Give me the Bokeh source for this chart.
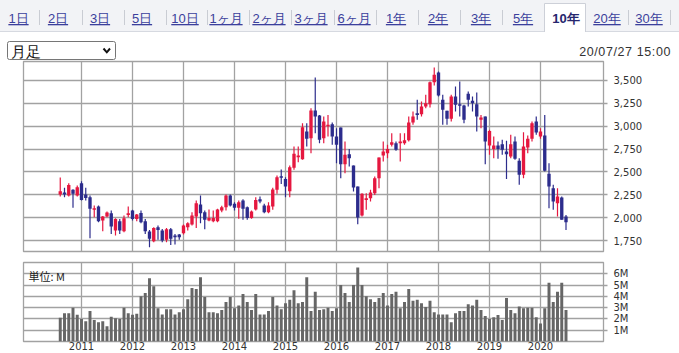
import pandas as pd
from bokeh.plotting import figure
from bokeh.layouts import column
from bokeh.models import Range1d, FixedTicker, NumeralTickFormatter, Label, Div
from bokeh.embed import file_html
from bokeh.resources import INLINE

# ---------------- data ----------------
start_month = "2010-08-01"
opens = [2253, 2274, 2242, 2304, 2242, 2377, 2253, 2223, 2085, 2121,
         1968, 2012, 2048, 1859, 1961, 1851, 2030, 2078, 1986, 2052,
         1961, 1848, 1742, 1895, 1859, 1757, 1873, 1804, 1815, 1830,
         1895, 1925, 2012, 2143, 2060, 1968, 1961, 1961, 2078, 2114,
         2242, 2151, 2107, 2187, 2114, 1997, 2089, 2202, 2133, 2060,
         2122, 2304, 2453, 2424, 2289, 2545, 2661, 2639, 2942, 2869,
         3172, 3117, 2869, 3000, 3022, 2887, 2986, 2585, 2694, 2570,
         2340, 2023, 2194, 2213, 2267, 2431, 2680, 2705, 2796, 2815,
         2815, 2815, 2847, 3041, 3143, 3132, 3216, 3241, 3482, 3588,
         3289, 3168, 3081, 3325, 3241, 3227, 3354, 3278, 3241, 3070,
         3106, 2789, 2752, 2789, 2804, 2723, 2669, 2833, 2621, 2468,
         2767, 2862, 3052, 2887, 2898, 2479, 2322, 2158, 2220, 2012]
highs = [2440, 2326, 2377, 2311, 2351, 2398, 2326, 2242, 2132, 2132,
         2019, 2067, 2078, 1994, 1986, 2023, 2121, 2085, 2041, 2078,
         1986, 1866, 1895, 1913, 1877, 1888, 1888, 1822, 1822, 1925,
         1950, 2059, 2187, 2242, 2078, 2089, 2078, 2096, 2129, 2253,
         2253, 2169, 2187, 2202, 2121, 2078, 2224, 2231, 2151, 2169,
         2326, 2461, 2526, 2442, 2570, 2778, 2778, 3033, 3033, 3197,
         3533, 3124, 3106, 3124, 3041, 2979, 2986, 2833, 2752, 2570,
         2340, 2267, 2267, 2304, 2450, 2658, 2833, 2796, 2924, 2833,
         2924, 2924, 3106, 3161, 3289, 3270, 3343, 3490, 3642, 3599,
         3343, 3168, 3343, 3434, 3489, 3234, 3380, 3325, 3369, 3124,
         3106, 2960, 2887, 2833, 2851, 2840, 2906, 2887, 2650, 2935,
         2898, 3052, 3106, 2979, 3124, 2596, 2359, 2322, 2231, 2030]
lows = [2230, 2223, 2231, 2107, 2231, 2187, 2187, 1775, 2005, 1950,
        1851, 2005, 1822, 1804, 1822, 1840, 2005, 1968, 1961, 1939,
        1822, 1676, 1731, 1757, 1731, 1731, 1702, 1706, 1757, 1815,
        1859, 1914, 1888, 1939, 1873, 1961, 1950, 1950, 2060, 2078,
        2121, 2078, 1987, 1976, 1976, 1987, 2078, 2158, 2049, 2049,
        2085, 2260, 2369, 2224, 2224, 2523, 2607, 2632, 2778, 2705,
        2924, 2815, 2815, 2887, 2796, 2596, 2432, 2486, 2559, 2286,
        1928, 2012, 2085, 2176, 2249, 2322, 2614, 2650, 2778, 2731,
        2614, 2796, 2833, 3015, 3070, 3106, 3197, 3205, 3445, 3325,
        3015, 3015, 3052, 3161, 3106, 3033, 3216, 3161, 2942, 2979,
        2585, 2687, 2650, 2643, 2687, 2424, 2650, 2632, 2359, 2432,
        2705, 2833, 2906, 2862, 2504, 2103, 2085, 2012, 1976, 1866]
closes = [2289, 2253, 2358, 2260, 2333, 2194, 2216, 2096, 2103, 1961,
          2012, 2056, 1902, 1986, 1859, 1994, 2048, 1986, 2034, 1950,
          1851, 1768, 1888, 1866, 1749, 1873, 1768, 1786, 1786, 1914,
          1939, 2023, 2158, 2049, 1976, 1997, 1997, 2089, 2114, 2242,
          2132, 2107, 2169, 2096, 1997, 2067, 2194, 2176, 2060, 2133,
          2307, 2442, 2435, 2340, 2552, 2698, 2679, 2990, 2862, 3172,
          3106, 2851, 3052, 3015, 2887, 2796, 2585, 2687, 2650, 2329,
          2001, 2260, 2213, 2275, 2431, 2658, 2723, 2752, 2825, 2742,
          2833, 2847, 3041, 3106, 3124, 3216, 3252, 3482, 3562, 3336,
          3179, 3081, 3325, 3234, 3223, 3070, 3289, 3252, 3106, 3095,
          2833, 2949, 2789, 2752, 2742, 2694, 2804, 2643, 2468, 2778,
          2862, 3033, 2931, 2942, 2512, 2340, 2176, 2231, 1976, 1950]
volumes_m = [2.1, 2.5, 2.5, 3.0, 2.36, 2.0, 1.8, 2.7, 1.9, 1.7,
             1.8, 1.35, 2.2, 2.06, 2.0, 3.0, 2.5, 2.36, 2.45, 4.0,
             4.3, 5.6, 4.9, 2.95, 2.4, 2.85, 2.85, 2.4, 2.6, 2.85,
             3.75, 4.75, 4.65, 5.7, 3.95, 2.6, 2.6, 2.5, 2.8, 3.5,
             3.95, 2.95, 3.2, 4.2, 3.5, 2.8, 4.2, 2.4, 2.4, 2.7,
             3.95, 3.2, 2.85, 3.4, 3.7, 4.55, 3.4, 3.5, 5.7, 2.7,
             4.4, 2.8, 2.85, 3.0, 2.7, 2.95, 5.0, 4.3, 3.5, 5.0,
             6.55, 5.0, 4.0, 3.75, 3.5, 3.85, 4.3, 3.2, 4.2, 4.4,
             2.95, 3.5, 4.65, 3.6, 3.7, 3.4, 3.05, 3.6, 2.6, 2.4,
             2.4, 2.4, 1.7, 2.5, 2.7, 2.7, 3.3, 3.2, 3.7, 2.8,
             2.25, 2.0, 2.15, 2.35, 1.9, 3.85, 2.8, 2.5, 3.1, 2.95,
             3.0, 3.0, 2.15, 1.6, 2.95, 5.2, 3.5, 4.4, 5.2, 2.8]
year_ticks = [2011, 2012, 2013, 2014, 2015, 2016, 2017, 2018, 2019, 2020]
price_ticks = [1750, 2000, 2250, 2500, 2750, 3000, 3250, 3500]
vol_ticks = [1, 2, 3, 4, 5, 6]
vol_tick_labels = ["1M", "2M", "3M", "4M", "5M", "6M"]
tabs = ["1日", "2日", "3日", "5日", "10日", "1ヶ月", "2ヶ月", "3ヶ月", "6ヶ月",
        "1年", "2年", "3年", "5年", "10年", "20年", "30年"]
selected_tab = "10年"
period_label = "月足"
timestamp = "20/07/27 15:00"
unit_label = "単位: M"

# ---------------- layout / style ----------------
tab_x = [18.5, 58, 100, 142, 185, 226, 269, 311, 354, 396, 438, 481, 523, 566, 607, 649]
sep_x = [39, 82, 124, 166, 207, 249, 291, 334, 376, 418, 460, 502, 628, 670]

UP = "#e5173f"
DN = "#2c2c8c"
GRID = "#a2a2a2"
X0, X1 = 2011 - 58 / 51, 2020 + 63 / 51
CJK = "Noto Sans CJK JP"
NUM = "DejaVu Sans"

months = pd.date_range(start_month, periods=len(opens), freq="MS")
xs = [d.year + (d.month - 1) / 12 for d in months]
cols = [UP if c >= o else DN for o, c in zip(opens, closes)]
tops = [max(o, c) for o, c in zip(opens, closes)]
bots = [min(o, c) for o, c in zip(opens, closes)]

# ---------------- header (tabs, select box, timestamp) as inline SVG ----------------
parts = ['<svg xmlns="http://www.w3.org/2000/svg" width="679" height="60" style="display:block">',
         '<rect x="0" y="0" width="679" height="31" fill="#f2f3f6"/>',
         '<line x1="0" y1="31.5" x2="679" y2="31.5" stroke="#d6d9e0" stroke-width="1"/>']
si = tabs.index(selected_tab)
sl, sr = tab_x[si] - 21.5, tab_x[si] + 19.5
parts.append(f'<path d="M{sl} 32 V3.5 H{sr} V32 Z" fill="#ffffff" stroke="none"/>')
parts.append(f'<path d="M{sl} 32 V3.5 H{sr} V32" fill="none" stroke="#cdd0d8" stroke-width="1"/>')
for sx in sep_x:
    parts.append(f'<line x1="{sx + 0.5}" y1="10" x2="{sx + 0.5}" y2="25" stroke="#c9ccd3" stroke-width="1"/>')
for t, tx in zip(tabs, tab_x):
    if t == selected_tab:
        parts.append(f'<text x="{tx}" y="23" text-anchor="middle" font-family="{CJK}" '
                     f'font-size="13px" font-weight="bold" fill="#26266e">{t}</text>')
    else:
        parts.append(f'<text x="{tx}" y="23" text-anchor="middle" font-family="{CJK}" '
                     f'font-size="13px" fill="#3b3f9c" text-decoration="underline">{t}</text>')
parts.append('<rect x="7.5" y="41.5" width="108" height="18" rx="2" fill="#ffffff" '
             'stroke="#767676" stroke-width="1"/>')
parts.append(f'<text x="11" y="57" font-family="{CJK}" font-size="15px" fill="#111111">{period_label}</text>')
parts.append('<polyline points="103.5,48.5 106.8,52.3 110,48.5" fill="none" stroke="#111111" stroke-width="2"/>')
parts.append(f'<text x="671" y="55.5" text-anchor="end" font-family="{NUM}" font-size="12.5px" '
             f'letter-spacing="0.6" fill="#333333">{timestamp}</text>')
parts.append('</svg>')
header = Div(text="".join(parts), width=679, height=60, margin=(0, 0, 0, 0))

# ---------------- price chart ----------------
p = figure(width=679, height=201, x_range=Range1d(X0, X1), y_range=Range1d(1629.7, 3707.8),
           x_axis_location=None, y_axis_location="right", toolbar_location=None,
           output_backend="svg", min_border_left=23, min_border_right=76,
           min_border_top=1, min_border_bottom=10)
p.xgrid.ticker = FixedTicker(ticks=year_ticks)
p.yaxis.ticker = FixedTicker(ticks=price_ticks)
p.ygrid.ticker = FixedTicker(ticks=price_ticks)
p.yaxis.formatter = NumeralTickFormatter(format="0,0")
p.grid.grid_line_color = GRID
p.grid.grid_line_width = 1.3
p.outline_line_color = GRID
p.outline_line_width = 1.3
p.yaxis.axis_line_color = None
p.yaxis.major_tick_line_color = GRID
p.yaxis.major_tick_line_width = 1.3
p.yaxis.major_tick_out = 4
p.yaxis.major_tick_in = 0
p.yaxis.minor_tick_line_color = None
p.yaxis.major_label_standoff = 6
p.yaxis.major_label_text_font = NUM
p.yaxis.major_label_text_font_size = "10px"
p.yaxis.major_label_text_color = "#333333"

p.segment(x0=xs, y0=lows, x1=xs, y1=highs, line_color=cols, line_width=1.2)
p.vbar(x=xs, width=0.066, top=tops, bottom=bots, fill_color=cols, line_color=None)

# ---------------- volume chart ----------------
v = figure(width=679, height=92, x_range=p.x_range, y_range=Range1d(0, 7),
           x_axis_location="below", y_axis_location="right", toolbar_location=None,
           output_backend="svg", min_border_left=23, min_border_right=76,
           min_border_top=1, min_border_bottom=12)
v.xaxis.ticker = FixedTicker(ticks=year_ticks)
v.xgrid.ticker = FixedTicker(ticks=year_ticks)
v.xaxis.major_label_overrides = {y: str(y) for y in year_ticks}
v.yaxis.ticker = FixedTicker(ticks=vol_ticks)
v.ygrid.ticker = FixedTicker(ticks=vol_ticks)
v.yaxis.major_label_overrides = dict(zip(vol_ticks, vol_tick_labels))
v.grid.grid_line_color = GRID
v.grid.grid_line_width = 1.3
v.outline_line_color = GRID
v.outline_line_width = 1.3
for ax in (v.xaxis, v.yaxis):
    ax.axis_line_color = None
    ax.minor_tick_line_color = None
    ax.major_label_text_font = NUM
    ax.major_label_text_font_size = "10px"
    ax.major_label_text_color = "#333333"
v.yaxis.major_tick_line_color = GRID
v.yaxis.major_tick_line_width = 1.3
v.yaxis.major_tick_out = 4
v.yaxis.major_tick_in = 0
v.yaxis.major_label_standoff = 6
v.xaxis.major_tick_line_color = None
v.xaxis.major_tick_out = 0
v.xaxis.major_tick_in = 0
v.xaxis.major_label_standoff = 0

v.vbar(x=xs, width=0.058, top=volumes_m, bottom=0, fill_color="#666666", line_color=None)
v.add_layout(Label(x=X0 + 5 / 51, y=7 - 14 / 11.29, text=unit_label, text_font=CJK,
                   text_font_size="11px", text_baseline="alphabetic", text_color="#222222"))

layout = column(header, p, v, spacing=0)
open("out.html", "w").write(file_html(layout, INLINE))
